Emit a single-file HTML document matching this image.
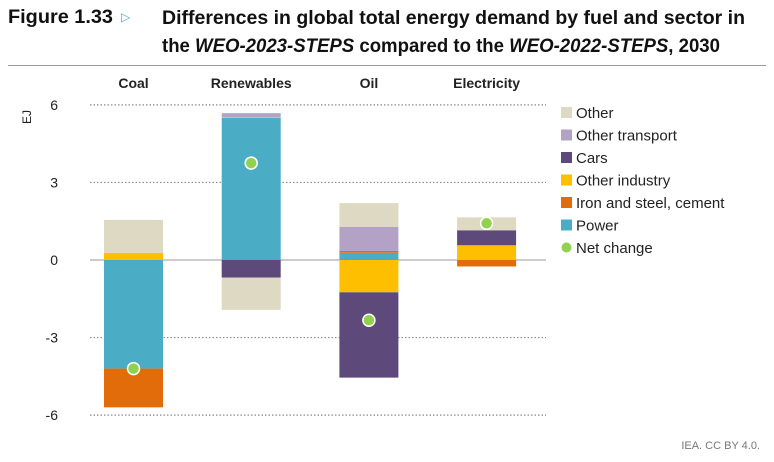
<!DOCTYPE html>
<html><head><meta charset="utf-8"><style>
body{margin:0;background:#fff;width:774px;height:457px;overflow:hidden;font-family:"Liberation Sans",sans-serif;}
svg text{font-family:"Liberation Sans",sans-serif;}
</style></head><body>
<svg id="c" width="774" height="457">
<text x="8" y="23" font-size="19" font-weight="bold" fill="#111" textLength="105" lengthAdjust="spacingAndGlyphs">Figure 1.33</text>
<text x="121" y="21" font-size="12" fill="#4bacc6">▷</text>
<text x="162" y="24" font-size="19" font-weight="bold" fill="#111" textLength="583" lengthAdjust="spacingAndGlyphs">Differences in global total energy demand by fuel and sector in</text>
<text x="162" y="52" font-size="19" font-weight="bold" fill="#111" textLength="558" lengthAdjust="spacingAndGlyphs">the <tspan font-style="italic">WEO-2023-STEPS</tspan> compared to the <tspan font-style="italic">WEO-2022-STEPS</tspan>, 2030</text>
<line x1="8" y1="65.5" x2="766" y2="65.5" stroke="#999" stroke-width="1"/>
<text x="31" y="117" font-size="12" fill="#222" transform="rotate(-90 31 117)" text-anchor="middle">EJ</text>
<g id="grid"></g><g id="bars"></g><g id="dots"></g><g id="legend"></g>
<text x="760" y="449" font-size="11" fill="#777" text-anchor="end">IEA. CC BY 4.0.</text>
</svg>
<script>
const categories=["Coal","Renewables","Oil","Electricity"];
const seriesNames=["Power","Iron and steel, cement","Other industry","Cars","Other transport","Other"];
const power=[-4.2,5.5,0.28,0];
const ironSteel=[-1.5,0,0.07,-0.25];
const otherIndustry=[0.28,0.03,-1.25,0.57];
const cars=[0,-0.68,-3.3,0.58];
const otherTransport=[0,0.15,0.93,0];
const other=[1.27,-1.25,0.92,0.5];
const netChange=[-4.2,3.75,-2.33,1.42];
const yTicks=[6,3,0,-3,-6];
const colors=["#4bacc6","#e36c0a","#fdbf00","#5e4a7a","#b3a1c6","#ddd9c3"];
const NS="http://www.w3.org/2000/svg";
function y(v){return 260-v*25.85;}
function x(i){return 133.5+i*117.7;}
const bw=59;
function mk(t,a,p){const e=document.createElementNS(NS,t);for(const k in a)e.setAttribute(k,a[k]);p.appendChild(e);return e;}
const G=document.getElementById('grid'),B=document.getElementById('bars'),D=document.getElementById('dots'),L=document.getElementById('legend');
yTicks.forEach(t=>{
 if(t!==0){const l=mk('line',{x1:90,x2:546,y1:y(t),y2:y(t),stroke:'#888','stroke-dasharray':'1.5 2','stroke-width':1.2},G);
 
 }
 const tx=mk('text',{x:58,y:y(t)+5,'font-size':14,fill:'#222','text-anchor':'end'},G);tx.textContent=t;
 
 
});
const z=mk('line',{x1:90,x2:546,y1:y(0),y2:y(0),stroke:'#bbb','stroke-width':1.5},G);


categories.forEach((c,i)=>{
 const t=mk('text',{x:x(i),y:88,'font-size':14,'font-weight':'bold',fill:'#222','text-anchor':'middle'},G);t.textContent=c;
 
 
});
const series=[power,ironSteel,otherIndustry,cars,otherTransport,other];
categories.forEach((c,i)=>{
 let pos=0,neg=0;
 series.forEach((s,k)=>{
  const v=s[i];if(!v)return;
  let a,b;if(v>0){a=pos;b=pos+v;pos=b;}else{a=neg;b=neg+v;neg=b;}
  const r=mk('rect',{x:x(i)-bw/2,y:Math.min(y(a),y(b)),width:bw,height:Math.abs(y(a)-y(b)),fill:colors[k]},B);
  
  
 });
 const d=mk('circle',{cx:x(i),cy:y(netChange[i]),r:6,fill:'#92d050',stroke:'#fff','stroke-width':1.5},D);
 
 
});
const legOrder=[5,4,3,2,1,0];
legOrder.forEach((k,j)=>{
 const yy=112+j*22.5;
 const r=mk('rect',{x:561,y:yy-5,width:11,height:11,fill:colors[k]},L);
 
 
 const t=mk('text',{x:576,y:yy+6,'font-size':15,fill:'#222'},L);t.textContent=seriesNames[k];
 
 
});
const yy=112+6*22.5;
const lc=mk('circle',{cx:566.5,cy:yy+0.5,r:5,fill:'#92d050'},L);


const lt=mk('text',{x:576,y:yy+6,'font-size':15,fill:'#222'},L);lt.textContent="Net change";


</script>
</body></html>
